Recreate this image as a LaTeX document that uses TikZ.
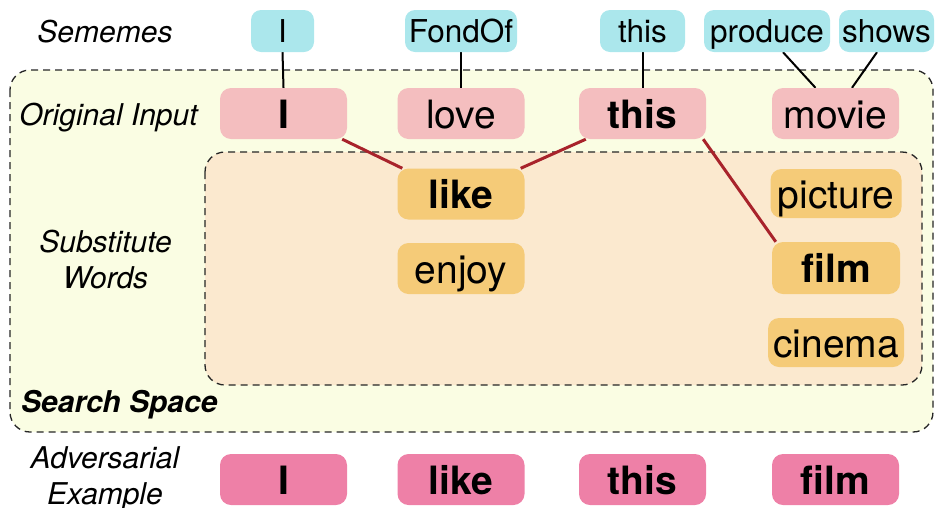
\documentclass[tikz,border=0pt]{standalone}
\usepackage{fontspec}
\setmainfont{TeX Gyre Heros}
\pgfdeclarelayer{bgA}
\pgfdeclarelayer{bgB}
\pgfsetlayers{bgA,bgB,main}
\definecolor{semC}{HTML}{ABE7EC}
\definecolor{origC}{HTML}{F4BEBF}
\definecolor{subC}{HTML}{F5CB78}
\definecolor{advC}{HTML}{EE80A7}
\definecolor{outerC}{HTML}{FAFDE3}
\definecolor{innerC}{HTML}{FBE9CF}
\definecolor{redC}{HTML}{A8232B}
\begin{document}
\begin{tikzpicture}[x=1pt,y=-1pt,
  word/.style={rounded corners=11pt, minimum width=127pt, minimum height=51pt, inner sep=0pt,
    text height=29.5pt, text depth=0pt, font=\fontsize{39}{46}\selectfont},
  orig/.style={word, fill=origC},
  sub/.style={word, fill=subC},
  adv/.style={word, fill=advC},
  sem/.style={rounded corners=10pt, minimum height=42pt, inner sep=0pt, text height=22pt,
    text depth=0pt, font=\fontsize{31.5}{37}\selectfont, fill=semC},
  lbl/.style={font=\fontsize{30}{36}\selectfont\itshape, align=center, inner sep=0pt},
  dbox/.style={draw=black!85, line width=1.3pt, dash pattern=on 7pt off 5pt, rounded corners=20pt},
  semline/.style={draw=black, line width=2pt},
  redline/.style={draw=redC, line width=3pt}
]
\useasboundingbox (0,0) rectangle (935,507);
% labels
\node[lbl, anchor=base] (lsem) at (105,42) {Sememes};
\node[lbl, anchor=base] (lorig) at (108.5,125) {Original Input};
\node[lbl, anchor=base] (lsub) at (105.5,288) {Substitute\\Words};
\node[lbl, anchor=base west, font=\fontsize{30}{36}\selectfont\bfseries\itshape] (lss) at (21,412) {Search Space};
\node[lbl, anchor=base] (ladv) at (105,504) {Adversarial\\Example};
% sememes
\node[sem, minimum width=63pt] (s1) at (282.5,31) {I};
\node[sem, minimum width=112pt] (s2) at (461,31) {FondOf};
\node[sem, minimum width=85pt] (s3) at (642.5,31) {this};
\node[sem, minimum width=126pt] (s4) at (767,31) {produce};
\node[sem, minimum width=95pt] (s5) at (886.5,31) {shows};
% original input
\node[orig] (o1) at (283.5,113.5) {\bfseries I};
\node[orig] (o2) at (461,113.5) {love};
\node[orig] (o3) at (642.5,113.5) {\bfseries this};
\node[orig] (o4) at (835.5,113.5) {movie};
% substitutes
\node[sub] (like) at (461,194) {\bfseries like};
\node[sub] (enjoy) at (461,268.5) {enjoy};
\node[sub, minimum width=131pt, minimum height=49pt] (picture) at (836,193.5) {picture};
\node[sub, minimum width=128pt, minimum height=52pt] (film) at (836,268) {\bfseries film};
\node[sub, minimum width=136pt, minimum height=49pt] (cinema) at (836,342.5) {cinema};
% adversarial
\node[adv] (a1) at (283.5,479.5) {\bfseries I};
\node[adv] (a2) at (461,479.5) {\bfseries like};
\node[adv] (a3) at (642.5,479.5) {\bfseries this};
\node[adv] (a4) at (835.5,479.5) {\bfseries film};
% boxes
\begin{pgfonlayer}{bgA}
\draw[dbox, fill=outerC] (10,70) rectangle (933,432);
\draw[dbox, fill=innerC] (205,152) rectangle (922,385);
\end{pgfonlayer}
% connectors
\begin{pgfonlayer}{bgB}
\draw[semline] (s1.south) -- (o1.north);
\draw[semline] (s2.south) -- (o2.north);
\draw[semline] (s3.south) -- (o3.north);
\draw[semline] ([xshift=16pt]s4.south) -- ([xshift=-20pt]o4.north);
\draw[semline] ([xshift=-9.5pt]s5.south) -- ([xshift=16.5pt]o4.north);
\draw[redline] ([xshift=-5pt]o1.south east) -- ([xshift=5pt]like.north west);
\draw[redline] ([xshift=7pt]o3.south west) -- ([xshift=-4pt]like.north east);
\draw[redline] ([xshift=-3pt]o3.south east) -- ([xshift=4pt]film.north west);
\end{pgfonlayer}
\end{tikzpicture}
\end{document}
